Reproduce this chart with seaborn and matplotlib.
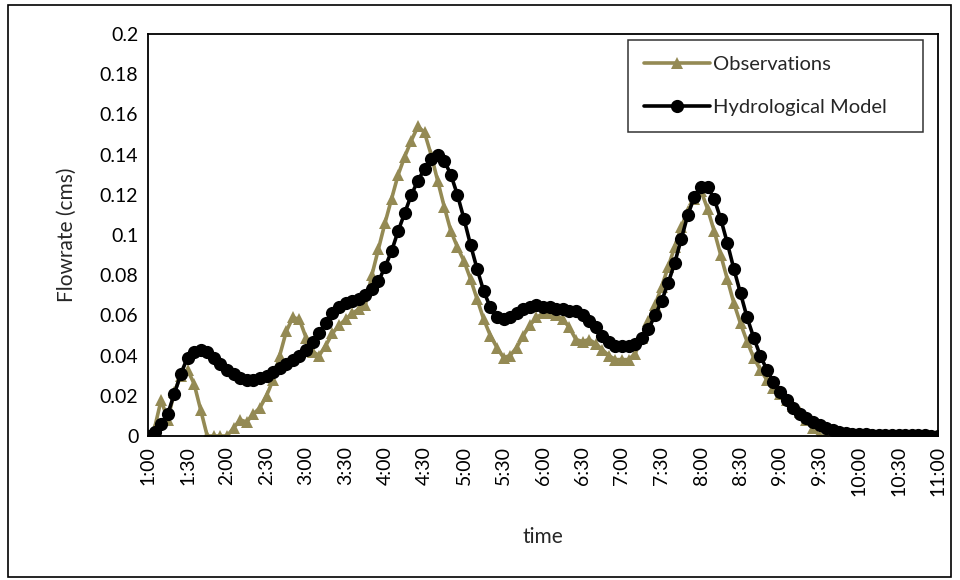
import matplotlib
matplotlib.use("Agg")
import matplotlib.pyplot as plt
import seaborn as sns
import pandas as pd
from matplotlib.patches import Rectangle

# 5-minute steps from 1:00 to 11:00
tick_labels = ["1:00", "1:30", "2:00", "2:30", "3:00", "3:30", "4:00", "4:30", "5:00",
               "5:30", "6:00", "6:30", "7:00", "7:30", "8:00", "8:30", "9:00", "9:30",
               "10:00", "10:30", "11:00"]

observations = [
    0.000, 0.004, 0.018, 0.008, 0.022, 0.030, 0.033, 0.026, 0.013, 0.000,   # 1:00-1:45
    0.000, 0.000, 0.000, 0.004, 0.008, 0.007, 0.011, 0.014, 0.020, 0.028,   # 1:50-2:35
    0.040, 0.052, 0.059, 0.058, 0.049, 0.042, 0.040, 0.045, 0.051, 0.055,   # 2:40-3:25
    0.058, 0.061, 0.063, 0.065, 0.080, 0.093, 0.106, 0.118, 0.130, 0.139,   # 3:30-4:15
    0.147, 0.154, 0.151, 0.140, 0.127, 0.114, 0.102, 0.094, 0.087, 0.078,   # 4:20-5:05
    0.068, 0.058, 0.050, 0.044, 0.039, 0.040, 0.044, 0.050, 0.055, 0.059,   # 5:10-5:55
    0.061, 0.061, 0.060, 0.058, 0.054, 0.048, 0.047, 0.048, 0.046, 0.043,   # 6:00-6:45
    0.040, 0.038, 0.038, 0.038, 0.041, 0.049, 0.057, 0.065, 0.074, 0.084,   # 6:50-7:35
    0.094, 0.104, 0.112, 0.118, 0.122, 0.113, 0.102, 0.090, 0.078, 0.066,   # 7:40-8:25
    0.056, 0.047, 0.039, 0.033, 0.028, 0.024, 0.021, 0.018, 0.015, 0.012,   # 8:30-9:15
    0.008, 0.004, 0.000, 0.000, 0.000, 0.000, 0.000, 0.000, 0.000, 0.000,   # 9:20-10:05
    0.000, 0.000, 0.000, 0.000, 0.000, 0.000, 0.000, 0.000, 0.000, 0.000,   # 10:10-10:55
    0.000,                                                                   # 11:00
]

hydrological_model = [
    0.000, 0.002, 0.006, 0.011, 0.021, 0.031, 0.039, 0.042, 0.043, 0.042,
    0.039, 0.036, 0.033, 0.031, 0.029, 0.028, 0.028, 0.029, 0.030, 0.032,
    0.034, 0.036, 0.038, 0.040, 0.043, 0.047, 0.051, 0.056, 0.061, 0.064,
    0.066, 0.067, 0.068, 0.070, 0.073, 0.077, 0.084, 0.092, 0.102, 0.111,
    0.120, 0.127, 0.133, 0.138, 0.140, 0.137, 0.130, 0.120, 0.108, 0.095,
    0.083, 0.072, 0.064, 0.059, 0.058, 0.059, 0.061, 0.063, 0.064, 0.065,
    0.064, 0.064, 0.063, 0.063, 0.062, 0.062, 0.060, 0.057, 0.054, 0.050,
    0.047, 0.045, 0.045, 0.045, 0.046, 0.049, 0.053, 0.060, 0.067, 0.076,
    0.086, 0.098, 0.110, 0.119, 0.124, 0.124, 0.118, 0.108, 0.096, 0.083,
    0.071, 0.059, 0.049, 0.040, 0.033, 0.027, 0.022, 0.018, 0.014, 0.011,
    0.009, 0.007, 0.0055, 0.004, 0.003, 0.0022, 0.0016, 0.0012, 0.0010, 0.0008,
    0.0007, 0.0006, 0.0005, 0.0005, 0.0004, 0.0004, 0.0003, 0.0003, 0.0003, 0.0002,
    0.0002,
]

step = list(range(len(observations)))
df = pd.DataFrame({"step": step, "Observations": observations,
                   "Hydrological Model": hydrological_model})

sns.set_theme(style="white")
plt.rcParams["font.family"] = ["Lato", "DejaVu Sans"]

fig = plt.figure(figsize=(9.6, 5.8), dpi=100)
ax = fig.add_axes([148 / 960, 1 - 436 / 580, (938 - 148) / 960, (436 - 34) / 580])

obs_color = "#948A54"
sns.lineplot(data=df, x="step", y="Observations", ax=ax, color=obs_color,
             linewidth=2.6, marker="^", markersize=9, markeredgewidth=0,
             label="Observations", zorder=2)
sns.lineplot(data=df, x="step", y="Hydrological Model", ax=ax, color="black",
             linewidth=2.6, marker="o", markersize=9.5, markeredgewidth=0,
             label="Hydrological Model", zorder=3)

ax.set_xlim(0, len(step) - 1)
ax.set_ylim(0, 0.2)
ax.set_xticks(range(0, len(step), 6))
ax.set_xticklabels(tick_labels, rotation=90, ha="center", va="top")
yt = [i * 0.02 for i in range(11)]
ax.set_yticks(yt)
ax.set_yticklabels(["0", "0.02", "0.04", "0.06", "0.08", "0.1", "0.12", "0.14",
                    "0.16", "0.18", "0.2"])
ax.tick_params(axis="both", labelsize=14, colors="black", length=0, pad=7)
for s in ax.spines.values():
    s.set_color("black")
    s.set_linewidth(1.3)

ax.set_xlabel("time", fontsize=15, labelpad=22)
ax.set_ylabel("Flowrate (cms)", fontsize=15, labelpad=16)

x0 = (628 - 148) / 790
y0 = 1 - (132 - 34) / 402
leg = ax.legend(loc="lower left", bbox_to_anchor=(x0, y0, (923 - 628) / 790, (132 - 42) / 402),
                mode="expand", frameon=True, fancybox=False, fontsize=14.5,
                handlelength=3.3, handletextpad=0.15, labelspacing=1.3,
                borderaxespad=0, borderpad=0.78)
leg.get_frame().set_edgecolor("black")
leg.get_frame().set_linewidth(1.1)

fig.patches.append(Rectangle((8 / 960, 3 / 580), (951 - 8) / 960, (576 - 4) / 580,
                             transform=fig.transFigure, fill=False,
                             edgecolor="black", linewidth=1.2))

fig.savefig("out.png", dpi=100)
